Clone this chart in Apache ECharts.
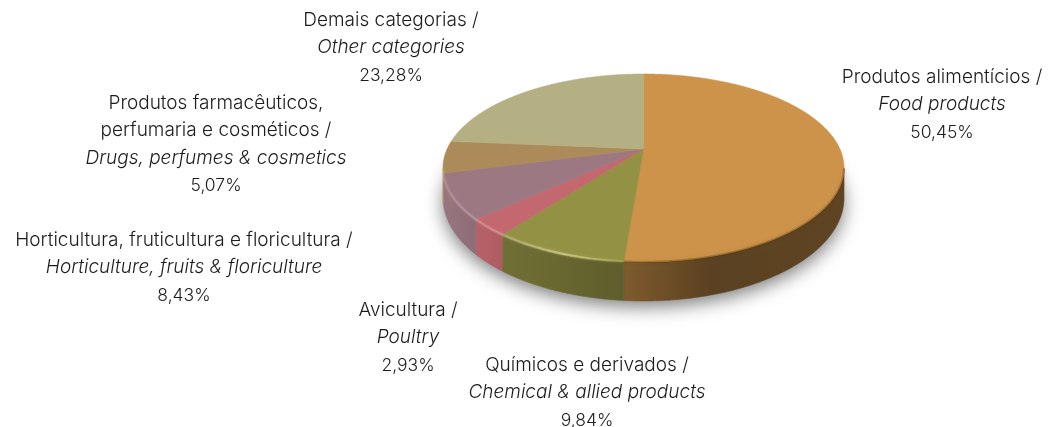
<!DOCTYPE html>
<html>
<head>
<meta charset="utf-8">
<style>
  html, body { margin: 0; padding: 0; background: #fff; }
  #main { width: 1049px; height: 427px; }
</style>
<script src="https://cdn.jsdelivr.net/npm/echarts@6/dist/echarts.min.js"></script>
</head>
<body>
<div id="main"></div>
<script>
const namesPt = ['Produtos alimentícios /', 'Químicos e derivados /', 'Avicultura /', 'Horticultura, fruticultura e floricultura /', 'Produtos farmacêuticos,\nperfumaria e cosméticos /', 'Demais categorias /'];
const namesEn = ['Food products', 'Chemical & allied products', 'Poultry', 'Horticulture, fruits & floriculture', 'Drugs, perfumes & cosmetics', 'Other categories'];
const shares = [50.45, 9.84, 2.93, 8.43, 5.07, 23.28];

const sliceColors = ['#cd934a', '#939244', '#c4686f', '#9c7882', '#ac8a5a', '#b5b084'];
// wall brightness at left, middle and right of each slice's visible side
const wallShades = [[0.62, 0.44, 0.46], [0.76, 0.72, 0.64], [0.93, 0.92, 0.88], [0.98, 0.95, 0.9], [1, 1, 1], [1, 1, 1]];
// label centre x, y of the first line
const labelPos = [[942, 77], [587, 365], [408, 310], [184, 240], [216, 103], [391, 20]];

// the disc seen in perspective: rim is an ellipse, the apex sits above its centre
const cx = 643.5, cy = 168, rx = 200.5, ry = 94;
const apexShift = -19;
const persp = -0.202;
const baseDrop = 30, baseRy = 103;

const project = deg => {
  // the source's 3D view is not a clean perspective: front and left edges sit a little off
  const d = deg
    + 3 * Math.exp(-Math.pow((deg - 180) / 20, 2))
    - 3 * Math.exp(-Math.pow((deg - 262) / 15, 2));
  const a = d * Math.PI / 180;
  const u = Math.sin(a), v = -Math.cos(a);
  const w = 1 + persp * v;
  return [
    cx + rx * Math.sqrt(1 - persp * persp) * u / w,
    cy + (ry * v + apexShift) / w
  ];
};
const toBase = p => [p[0], cy + baseDrop + (p[1] - cy) * baseRy / ry];

const arcPoints = (from, to) => {
  const pts = [];
  const n = Math.max(2, Math.ceil((to - from) * 2));
  for (let i = 0; i <= n; i++) pts.push(project(from + (to - from) * i / n));
  return pts;
};

const shade = (hex, f) => {
  const n = parseInt(hex.slice(1), 16);
  const c = [n >> 16, (n >> 8) & 255, n & 255].map(x => Math.round(x * f));
  return `rgb(${c.join(',')})`;
};
const wallFill = (color, f) => ({
  type: 'linear', x: 0, y: 0, x2: 1, y2: 0,
  colorStops: [
    {offset: 0, color: shade(color, f[0])},
    {offset: 0.4, color: shade(color, f[1])},
    {offset: 1, color: shade(color, f[2])}
  ]
});

let running = 0;
const sliceData = shares.map(v => {
  const row = [v, running];
  running += v;
  return row;
});

const renderSlice = (params, api) => {
  const color = sliceColors[params.dataIndex];
  const from = api.value(1) * 3.6, to = from + api.value(0) * 3.6;
  const rim = arcPoints(from, to);
  const front = rim.filter(p => p[1] >= cy);
  const children = [];
  if (front.length > 1) {
    const fill = wallFill(color, wallShades[params.dataIndex]);
    children.push({
      type: 'polygon',
      shape: {points: front.concat(front.map(toBase).reverse())},
      style: {fill: fill, stroke: fill, lineWidth: 0.6}
    });
  }
  children.push({
    type: 'polygon',
    shape: {points: rim.concat([[cx, cy + apexShift]])},
    style: {fill: color, stroke: color, lineWidth: 0.6}
  });
  return {type: 'group', children};
};

const renderShadow = () => {
  const pts = arcPoints(0, 360).map(toBase).map(p => [p[0], p[1] - 3]);
  return {
    type: 'polygon',
    shape: {points: pts},
    style: {fill: '#ccc', shadowBlur: 18, shadowColor: 'rgba(0,0,0,0.5)', shadowOffsetY: 9}
  };
};

// soft edge between top and side: light over the left slices, dark under the big one
const renderBevel = () => {
  const split = shares[0] * 3.6;
  const onFront = p => p[1] >= cy;
  return {
    type: 'group',
    children: [
      {
        type: 'polyline',
        shape: {points: arcPoints(split, 270).filter(onFront)},
        style: {
          fill: 'none',
          lineWidth: 2.5,
          shadowBlur: 3,
          shadowColor: 'rgba(255,255,190,0.4)',
          stroke: {
            type: 'linear', global: true, x: cx - rx, y: 0, x2: cx, y2: 0,
            colorStops: [
              {offset: 0, color: 'rgba(255,225,225,0.14)'},
              {offset: 0.3, color: 'rgba(255,225,225,0.24)'},
              {offset: 0.6, color: 'rgba(255,255,170,0.42)'},
              {offset: 0.92, color: 'rgba(255,255,170,0.1)'}
            ]
          }
        }
      },
      {
        type: 'polyline',
        shape: {points: arcPoints(90, split).filter(onFront)},
        style: {fill: 'none', lineWidth: 2, stroke: 'rgba(70,40,0,0.28)', shadowBlur: 5, shadowColor: 'rgba(70,40,0,0.5)'}
      }
    ]
  };
};

const percent = v => v.toFixed(2).replace('.', ',') + '%';

const renderLabel = (params, api) => {
  const i = params.dataIndex;
  const pt = namesPt[i].split('\n').map(s => `{pt|${s}}`).join('\n');
  return {
    type: 'text',
    x: labelPos[i][0],
    y: labelPos[i][1] - 14,
    style: {
      text: `${pt}\n{en|${namesEn[i]}}\n{num|${percent(api.value(0))}}`,
      align: 'center',
      verticalAlign: 'top',
      rich: {
        pt: {fontFamily: 'Inter', fontWeight: 300, fontSize: 19, lineHeight: 27.7, fill: '#1c1c1c', align: 'center'},
        en: {fontFamily: 'Inter', fontWeight: 300, fontStyle: 'italic', fontSize: 19, lineHeight: 27.7, fill: '#1c1c1c', align: 'center'},
        num: {fontFamily: 'Inter', fontWeight: 300, fontSize: 17.5, lineHeight: 27.7, fill: '#1c1c1c', align: 'center'}
      }
    }
  };
};

const chart = echarts.init(document.getElementById('main'));
chart.setOption({
  backgroundColor: '#fff',
  animation: false,
  series: [
    {type: 'custom', coordinateSystem: 'none', silent: true, z: 1, data: [[0]], renderItem: renderShadow},
    {type: 'custom', coordinateSystem: 'none', silent: true, z: 2, data: sliceData, renderItem: renderSlice},
    {type: 'custom', coordinateSystem: 'none', silent: true, z: 3, data: [[0]], renderItem: renderBevel},
    {type: 'custom', coordinateSystem: 'none', silent: true, z: 4, data: sliceData, renderItem: renderLabel}
  ]
});
</script>
</body>
</html>
